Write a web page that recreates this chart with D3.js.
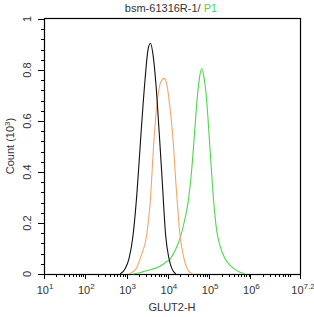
<!DOCTYPE html>
<html>
<head>
<meta charset="utf-8">
<script src="https://cdn.jsdelivr.net/npm/d3@7/dist/d3.min.js"></script>
<style>
  body { margin: 0; background: #fff; }
  text { font-family: "Liberation Sans", Arial, sans-serif; fill: #333; }
</style>
</head>
<body>
<svg width="314" height="317"></svg>
<script>
// fluorescence (GLUT2-H) vs count (10^3)
var blackX = [700, 916, 1145, 1430, 1788, 2234, 2793, 3304, 3795, 4365, 5164, 6194, 7211, 8855, 10646, 12590, 15500];
var blackY = [0, 0.02, 0.06, 0.15, 0.32, 0.55, 0.76, 0.88, 0.905, 0.86, 0.74, 0.55, 0.38, 0.15, 0.06, 0.02, 0];

var orangeX = [1150, 1690, 2234, 3070, 3690, 4690, 5770, 6820, 8190, 9530, 11270, 13090, 15740, 19680, 24600, 30760, 40000];
var orangeY = [0, 0.02, 0.07, 0.153, 0.27, 0.545, 0.70, 0.755, 0.767, 0.74, 0.65, 0.545, 0.35, 0.153, 0.06, 0.015, 0];

var greenX = [1430, 2113, 3304, 4880, 6440, 8050, 9530, 10646, 12590, 15740, 19680, 24600, 30760, 37330, 44150,
              50800, 58340, 65920, 75000, 87100, 99100, 115300, 130900, 152400, 183200, 242100, 319900, 422700, 558500, 738000];
var greenY = [0, 0.005, 0.015, 0.022, 0.03, 0.04, 0.05, 0.052, 0.07, 0.10, 0.14, 0.20, 0.28, 0.40, 0.55,
              0.68, 0.77, 0.806, 0.77, 0.68, 0.55, 0.39, 0.27, 0.17, 0.11, 0.06, 0.035, 0.018, 0.007, 0];

var xTickExp = ["1", "2", "3", "4", "5", "6", "7.2"];
var yTicks = [0, 0.2, 0.4, 0.6, 0.8, 1];

var svg = d3.select("svg");
var pLeft = 44, pRight = 300, pTop = 18, pBottom = 274;

var x = d3.scaleLog().domain([10, Math.pow(10, 7.2)]).range([pLeft, pRight]);
var y = d3.scaleLinear().domain([0, 1.0]).range([pBottom, pTop + 1]);

// frame
svg.append("rect")
    .attr("x", pLeft + 0.5).attr("y", pTop + 0.5)
    .attr("width", pRight - pLeft).attr("height", pBottom - pTop)
    .attr("fill", "none").attr("stroke", "#000").attr("stroke-width", 1.2);

// x ticks: major at decades, minor 2..9
var minorX = [];
for (var e = 1; e < 7.2; e++) {
  for (var m = 2; m <= 9; m++) {
    var v = m * Math.pow(10, e);
    if (v < Math.pow(10, 7.2)) minorX.push(v);
  }
}
var majorX = xTickExp.map(function(s) { return Math.pow(10, +s); });

svg.append("g").selectAll("line")
    .data(minorX).enter().append("line")
    .attr("x1", function(d) { return Math.round(x(d)) + 0.5; })
    .attr("x2", function(d) { return Math.round(x(d)) + 0.5; })
    .attr("y1", pBottom).attr("y2", pBottom + 3)
    .attr("stroke", "#000");

svg.append("g").selectAll("line")
    .data(majorX).enter().append("line")
    .attr("x1", function(d) { return Math.round(x(d)) + 0.5; })
    .attr("x2", function(d) { return Math.round(x(d)) + 0.5; })
    .attr("y1", pBottom).attr("y2", pBottom + 5)
    .attr("stroke", "#000");

var xl = svg.append("g").selectAll("text")
    .data(xTickExp).enter().append("text")
    .attr("x", function(d) { return x(Math.pow(10, +d)) + (d.length > 1 ? 3 : 1); })
    .attr("y", 294)
    .attr("text-anchor", "middle")
    .style("font-size", "11px");
xl.append("tspan").text("10");
xl.append("tspan").attr("dy", -5).style("font-size", "8px").text(function(d) { return d; });

// y ticks: major every 0.2, minor every 0.04
var minorY = d3.range(0, 26).map(function(i) { return i * 0.04; });
svg.append("g").selectAll("line")
    .data(minorY).enter().append("line")
    .attr("x1", pLeft - 3).attr("x2", pLeft)
    .attr("y1", function(d) { return Math.round(y(d)) + 0.5; })
    .attr("y2", function(d) { return Math.round(y(d)) + 0.5; })
    .attr("stroke", "#000");
svg.append("g").selectAll("line")
    .data(yTicks).enter().append("line")
    .attr("x1", pLeft - 6).attr("x2", pLeft)
    .attr("y1", function(d) { return Math.round(y(d)) + 0.5; })
    .attr("y2", function(d) { return Math.round(y(d)) + 0.5; })
    .attr("stroke", "#000");
svg.append("g").selectAll("text")
    .data(yTicks).enter().append("text")
    .attr("transform", function(d) { return "translate(31," + y(d) + ") rotate(-90)"; })
    .attr("text-anchor", "middle")
    .style("font-size", "11px")
    .text(function(d) { return String(Math.round(d * 10) / 10); });

// curves
var line = d3.line()
    .x(function(d) { return x(d[0]); })
    .y(function(d) { return y(d[1]); })
    .curve(d3.curveMonotoneX);

function pairs(xs, ys) { return xs.map(function(v, i) { return [v, ys[i]]; }); }

svg.append("path").datum(pairs(greenX, greenY))
    .attr("d", line).attr("fill", "none").attr("stroke", "#4cd84c").attr("stroke-width", 1.1);
svg.append("path").datum(pairs(orangeX, orangeY))
    .attr("d", line).attr("fill", "none").attr("stroke", "#f2a66c").attr("stroke-width", 1.1);
svg.append("path").datum(pairs(blackX, blackY))
    .attr("d", line).attr("fill", "none").attr("stroke", "#111").attr("stroke-width", 1.1);

// titles
var t = svg.append("text").attr("x", 171).attr("y", 12)
    .attr("text-anchor", "middle").style("font-size", "11px");
t.append("tspan").text("bsm-61316R-1/ ");
t.append("tspan").style("fill", "#4cd84c").text("P1");

svg.append("text").attr("x", 172).attr("y", 311)
    .attr("text-anchor", "middle").style("font-size", "11px").text("GLUT2-H");

var yt = svg.append("text").attr("transform", "translate(14,146) rotate(-90)")
    .attr("text-anchor", "middle").style("font-size", "11px");
yt.append("tspan").text("Count  (10");
yt.append("tspan").attr("dy", -4).style("font-size", "8px").text("3");
yt.append("tspan").attr("dy", 4).text(")");
</script>
</body>
</html>
